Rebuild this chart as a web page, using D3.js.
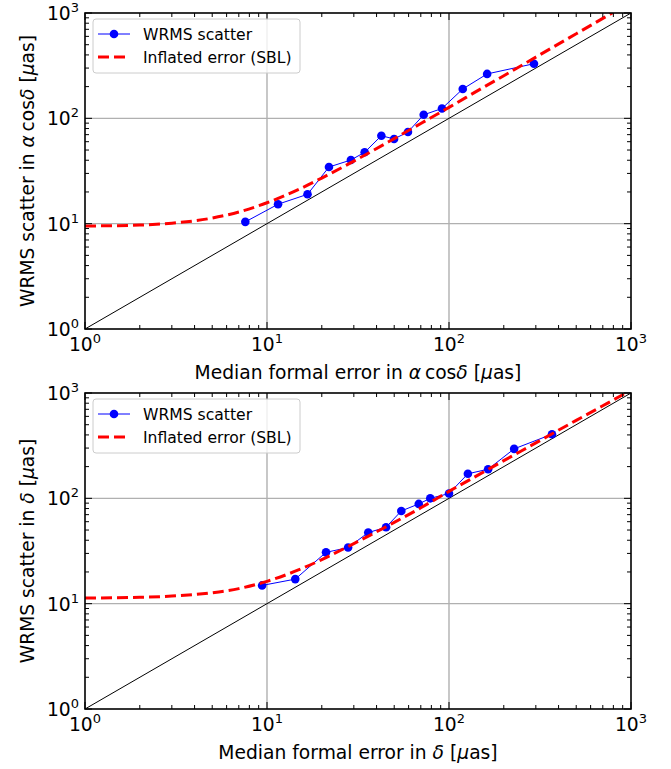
<!DOCTYPE html>
<html>
<head>
<meta charset="utf-8">
<script src="https://cdn.jsdelivr.net/npm/d3@7"></script>
<style>
  body { margin: 0; background: #fff; }
  text { font-family: "DejaVu Sans", sans-serif; }
</style>
</head>
<body>
<div id="chart"></div>
<script>
// WRMS scatter vs median formal error, binned
var raFormal = [7.6, 11.5, 16.7, 21.9, 28.9, 34.4, 42.5, 49.9, 59.5, 72.6, 91.5, 119, 162, 293];
var raWrms   = [10.4, 15.3, 19.0, 34.5, 40.2, 47.6, 68.4, 63.7, 74.2, 108, 124, 190, 264, 330];

var decFormal = [9.4, 14.3, 21.1, 27.9, 36.0, 45.1, 54.7, 68.2, 78.9, 100, 127, 164, 228, 368];
var decWrms   = [14.9, 17.1, 30.7, 34.1, 47.3, 53.2, 75.9, 88.5, 100, 111, 171, 189, 295, 406];

// inflated error curves (SBL)
var raModelX  = [1, 2, 3, 5, 7, 10, 15, 20, 30, 50, 70, 100, 150, 200, 300, 500, 700, 800];
var raModelY  = [9.5, 9.7, 10.1, 11.3, 12.9, 15.8, 21.2, 27.1, 39.2, 64.2, 89.4, 127, 191, 254, 381, 635, 889, 1016];
var decModelX = [1, 2, 3, 5, 7, 10, 15, 20, 30, 50, 70, 100, 150, 200, 300, 500, 700, 900, 1000];
var decModelY = [11.3, 11.5, 11.8, 12.7, 13.9, 16.3, 21.0, 26.2, 37.2, 59.1, 81.3, 116.5, 172.5, 228, 336, 550, 756, 963, 1070];

var decades = [1, 10, 100, 1000];

var W = 671, H = 769;
var svg = d3.select("#chart").append("svg")
  .attr("width", W)
  .attr("height", H);

function mathLabel(sel, parts) {
  // parts: [text, italic?]
  parts.forEach(function(p) {
    sel.append("tspan")
      .attr("font-style", p[1] ? "italic" : "normal")
      .text(p[0]);
  });
}

function drawPanel(cfg) {
  var x = d3.scaleLog().domain([1, 1000]).range([85, 631]);
  var y = d3.scaleLog().domain([1, 1000]).range([cfg.bottom, cfg.top]);
  var g = svg.append("g");

  var clipId = "clip" + cfg.id;
  svg.append("clipPath").attr("id", clipId)
    .append("rect")
    .attr("x", 85).attr("y", cfg.top)
    .attr("width", 546).attr("height", cfg.bottom - cfg.top);

  // grid at decades
  g.selectAll(".gx").data([10, 100]).enter().append("line")
    .attr("x1", function(d) { return x(d); }).attr("x2", function(d) { return x(d); })
    .attr("y1", cfg.top).attr("y2", cfg.bottom)
    .attr("stroke", "#b0b0b0").attr("stroke-width", 1.4);
  g.selectAll(".gy").data([10, 100]).enter().append("line")
    .attr("y1", function(d) { return y(d); }).attr("y2", function(d) { return y(d); })
    .attr("x1", 85).attr("x2", 631)
    .attr("stroke", "#b0b0b0").attr("stroke-width", 1.4);

  var plot = g.append("g").attr("clip-path", "url(#" + clipId + ")");

  // one-to-one line
  plot.append("path")
    .datum(decades)
    .attr("d", d3.line().x(function(d) { return x(d); }).y(function(d) { return y(d); }))
    .attr("fill", "none").attr("stroke", "#000").attr("stroke-width", 1);

  var pts = cfg.fx.map(function(v, i) { return [v, cfg.fy[i]]; });
  plot.append("path")
    .datum(pts)
    .attr("d", d3.line().x(function(d) { return x(d[0]); }).y(function(d) { return y(d[1]); }))
    .attr("fill", "none").attr("stroke", "#0000ff").attr("stroke-width", 1);
  plot.selectAll(".pt").data(pts).enter().append("circle")
    .attr("cx", function(d) { return x(d[0]); })
    .attr("cy", function(d) { return y(d[1]); })
    .attr("r", 4.3).attr("fill", "#0000ff");

  var model = cfg.mx.map(function(v, i) { return [v, cfg.my[i]]; });
  plot.append("path")
    .datum(model)
    .attr("d", d3.line().curve(d3.curveMonotoneX)
      .x(function(d) { return x(d[0]); }).y(function(d) { return y(d[1]); }))
    .attr("fill", "none").attr("stroke", "#ff0000").attr("stroke-width", 3)
    .attr("stroke-dasharray", "11,5");

  // ticks (inward, all four sides)
  var minor = [];
  [1, 10, 100].forEach(function(d) {
    for (var k = 2; k <= 9; k++) minor.push(d * k);
  });
  function ticks(vals, len) {
    vals.forEach(function(v) {
      var px = x(v), py = y(v);
      g.append("line").attr("x1", px).attr("x2", px).attr("y1", cfg.bottom).attr("y2", cfg.bottom - len)
        .attr("stroke", "#000").attr("stroke-width", 1);
      g.append("line").attr("x1", px).attr("x2", px).attr("y1", cfg.top).attr("y2", cfg.top + len)
        .attr("stroke", "#000").attr("stroke-width", 1);
      g.append("line").attr("y1", py).attr("y2", py).attr("x1", 85).attr("x2", 85 + len)
        .attr("stroke", "#000").attr("stroke-width", 1);
      g.append("line").attr("y1", py).attr("y2", py).attr("x1", 631).attr("x2", 631 - len)
        .attr("stroke", "#000").attr("stroke-width", 1);
    });
  }
  ticks(minor, 4);
  ticks(decades, 7);

  g.append("rect")
    .attr("x", 85).attr("y", cfg.top)
    .attr("width", 546).attr("height", cfg.bottom - cfg.top)
    .attr("fill", "none").attr("stroke", "#000").attr("stroke-width", 1.6);

  // tick labels
  decades.forEach(function(v, i) {
    var t = g.append("text")
      .attr("x", x(v)).attr("y", cfg.bottom + 22)
      .attr("text-anchor", "middle")
      .attr("font-size", 18.7);
    t.append("tspan").text("10");
    t.append("tspan").attr("dy", -8).attr("font-size", 13).text(i);

    var s = g.append("text")
      .attr("x", 79).attr("y", y(v) + 7)
      .attr("text-anchor", "end")
      .attr("font-size", 18.7);
    s.append("tspan").text("10");
    s.append("tspan").attr("dy", -8).attr("font-size", 13).text(i);
  });

  var xl = g.append("text")
    .attr("x", 358).attr("y", cfg.bottom + 50)
    .attr("text-anchor", "middle").attr("font-size", 18.7);
  mathLabel(xl, cfg.xlabel);

  var midY = (cfg.top + cfg.bottom) / 2;
  var yl = g.append("text")
    .attr("transform", "translate(34," + midY + ") rotate(-90)")
    .attr("text-anchor", "middle").attr("font-size", 18.7);
  mathLabel(yl, cfg.ylabel);

  // legend
  var lg = g.append("g").attr("transform", "translate(93," + (cfg.top + 6) + ")");
  lg.append("rect")
    .attr("width", 207).attr("height", 54).attr("rx", 3)
    .attr("fill", "#fff").attr("fill-opacity", 0.8)
    .attr("stroke", "#cccccc").attr("stroke-width", 1);
  lg.append("line").attr("x1", 5).attr("x2", 37).attr("y1", 15).attr("y2", 15)
    .attr("stroke", "#0000ff").attr("stroke-width", 1);
  lg.append("circle").attr("cx", 21).attr("cy", 15).attr("r", 4.3).attr("fill", "#0000ff");
  lg.append("text").attr("x", 50).attr("y", 20.5).attr("font-size", 15.6).text("WRMS scatter");
  lg.append("line").attr("x1", 5).attr("x2", 37).attr("y1", 38).attr("y2", 38)
    .attr("stroke", "#ff0000").attr("stroke-width", 3).attr("stroke-dasharray", "11,5");
  lg.append("text").attr("x", 50).attr("y", 43.5).attr("font-size", 15.6).text("Inflated error (SBL)");
}

drawPanel({
  id: "ra", top: 13, bottom: 329,
  fx: raFormal, fy: raWrms, mx: raModelX, my: raModelY,
  xlabel: [["Median formal error in ", false], ["α", true], ["\u2009cos", false], ["δ", true], [" [", false], ["μ", true], ["as]", false]],
  ylabel: [["WRMS scatter in ", false], ["α", true], ["\u2009cos", false], ["δ", true], [" [", false], ["μ", true], ["as]", false]]
});

drawPanel({
  id: "dec", top: 393, bottom: 709,
  fx: decFormal, fy: decWrms, mx: decModelX, my: decModelY,
  xlabel: [["Median formal error in ", false], ["δ", true], [" [", false], ["μ", true], ["as]", false]],
  ylabel: [["WRMS scatter in ", false], ["δ", true], [" [", false], ["μ", true], ["as]", false]]
});
</script>
</body>
</html>
